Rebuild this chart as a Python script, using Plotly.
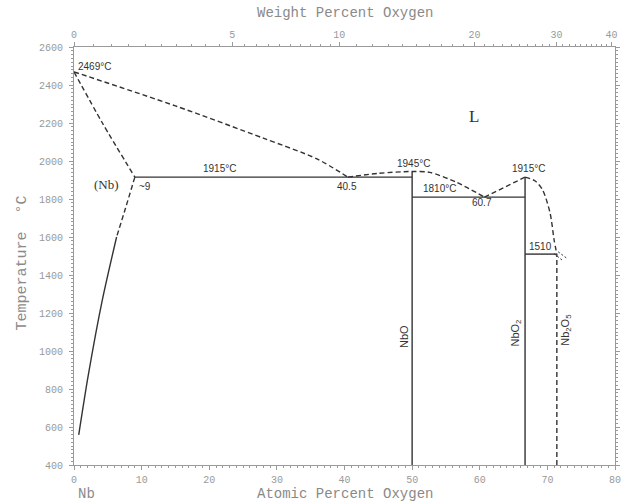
import plotly.graph_objects as go

# ---- data (atomic % O, temperature °C) ----
liq_left_at = [0, 15, 28, 36, 40.5]
liq_left_T = [2469, 2290, 2120, 2010, 1915]

solidus_at = [0, 4.2, 9]
solidus_T = [2469, 2200, 1915]

solvus_dash_at = [9, 7.6, 6.3]
solvus_dash_T = [1915, 1750, 1600]
solvus_solid_at = [6.3, 4.2, 2.1, 0.7]
solvus_solid_T = [1600, 1270, 870, 558]

liq_mid1_at = [40.5, 45, 50, 52.6, 56.5, 60.7]
liq_mid1_T = [1915, 1935, 1945, 1940, 1889, 1810]

liq_mid2a_at = [60.7, 66.7]
liq_mid2a_T = [1810, 1915]
liq_mid2b_at = [66.7, 68.2, 69.3, 70.4, 71.0, 71.4]
liq_mid2b_T = [1915, 1895, 1847, 1726, 1584, 1510]

eut1_at = [9, 50]; eut1_T = [1915, 1915]
eut2_at = [50, 66.7]; eut2_T = [1810, 1810]
eut3_at = [66.7, 71.4]; eut3_T = [1510, 1510]

nbo_at = [50, 50]; nbo_T = [400, 1945]
nbo2_at = [66.7, 66.7]; nbo2_T = [400, 1915]
nb2o5_at = [71.4, 71.4]; nb2o5_T = [400, 1510]

hatch1_at = [71.0, 72.2]; hatch1_T = [1512, 1478]
hatch2_at = [71.6, 72.8]; hatch2_T = [1522, 1490]

# top axis (weight % O)
wt_major = [0, 5, 10, 20, 30, 40]
wt_minor = [i * 0.5 for i in range(0, 21)] + list(range(11, 41))

M_O, M_NB = 15.999, 92.906


def wt_to_at(w):
    no = w / M_O
    nn = (100 - w) / M_NB
    return 100 * no / (no + nn)


line_col = "#333333"
axis_col = "#9a9a9a"
tick_font = dict(family="Liberation Mono", size=10, color="#999999")
DASH = "5px,3px"

fig = go.Figure()


def add(xs, ys, dash="solid", width=1.4, xaxis="x", shape="linear"):
    fig.add_trace(go.Scatter(x=xs, y=ys, mode="lines", xaxis=xaxis,
                             line=dict(color=line_col, width=width, dash=dash,
                                       shape=shape, smoothing=0.8),
                             hoverinfo="skip", showlegend=False))


add(liq_left_at, liq_left_T, DASH, shape="spline")
add(solidus_at, solidus_T, DASH, shape="spline")
add(solvus_dash_at, solvus_dash_T, DASH, shape="spline")
add(solvus_solid_at, solvus_solid_T, shape="spline")
add(liq_mid1_at, liq_mid1_T, DASH, shape="spline")
add(liq_mid2a_at, liq_mid2a_T, DASH)
add(liq_mid2b_at, liq_mid2b_T, DASH, shape="spline")
add(eut1_at, eut1_T)
add(eut2_at, eut2_T)
add(eut3_at, eut3_T)
add(nbo_at, nbo_T)
add(nbo2_at, nbo2_T)
add(nb2o5_at, nb2o5_T, DASH)
add(hatch1_at, hatch1_T, "2px,2px", 1.0)
add(hatch2_at, hatch2_T, "2px,2px", 1.0)
# invisible trace to activate the top axis
fig.add_trace(go.Scatter(x=[0, 80], y=[400, 400], mode="lines", xaxis="x2",
                         line=dict(width=0), opacity=0, hoverinfo="skip",
                         showlegend=False))

lab_font = dict(family="Liberation Sans", size=10, color="#333333")
rot_font = dict(family="Liberation Sans", size=11, color="#333333")
ann = [
    dict(x=0.3, y=2500, text="2469°C", xanchor="left"),
    dict(x=9.3, y=1866, text="~9", xanchor="left"),
    dict(x=21.5, y=1923, text="1915°C", yanchor="bottom"),
    dict(x=40.4, y=1866, text="40.5"),
    dict(x=50.2, y=1950, text="1945°C", yanchor="bottom"),
    dict(x=54.0, y=1815, text="1810°C", yanchor="bottom"),
    dict(x=60.3, y=1780, text="60.7"),
    dict(x=67.2, y=1922, text="1915°C", yanchor="bottom"),
    dict(x=69.0, y=1513, text="1510", yanchor="bottom"),
    dict(x=48.8, y=1074, text="NbO", textangle=-90, font=rot_font),
    dict(x=65.3, y=1095, text="NbO<sub>2</sub>", textangle=-90, font=rot_font),
    dict(x=72.7, y=1110, text="Nb<sub>2</sub>O<sub>5</sub>", textangle=-90, font=rot_font),
    dict(x=4.8, y=1874, text="(Nb)", font=dict(family="Liberation Serif", size=13, color="#333")),
    dict(x=59.2, y=2232, text="L", font=dict(family="Liberation Serif", size=17, color="#333")),
]
for a in ann:
    a.setdefault("font", lab_font)
    a.setdefault("xanchor", "center")
    a.setdefault("yanchor", "middle")
    a.update(showarrow=False, xref="x", yref="y")
    fig.add_annotation(**a)

# page-positioned texts (pixel positions from top-left of the page)
L, R, T, B = 74, 2, 47, 37
W, H = 622, 502
pw, ph = W - L - R, H - T - B

title_font = dict(family="Liberation Mono", size=14, color="#8a8a8a")
page_texts = [
    dict(text="Weight Percent Oxygen", px=347, py=13, font=title_font),
    dict(text="Atomic Percent Oxygen", px=348, py=494, font=title_font),
    dict(text="Nb", px=87, py=494, font=title_font),
    dict(text="Temperature  °C", px=22, py=263, textangle=-90,
         font=dict(family="Liberation Mono", size=15, color="#8a8a8a")),
]
for t in page_texts:
    px, py = t.pop("px"), t.pop("py")
    fig.add_annotation(x=(px - L) / pw, y=(H - py - B) / ph, xref="paper", yref="paper",
                       xanchor="center", yanchor="middle", showarrow=False, **t)

fig.update_layout(
    width=W, height=H,
    margin=dict(l=L, r=R, t=T, b=B),
    paper_bgcolor="white", plot_bgcolor="white",
    xaxis=dict(range=[0, 80], dtick=10, tick0=0, showgrid=False, zeroline=False,
               showline=True, linecolor=axis_col, linewidth=1,
               ticks="outside", ticklen=4, tickcolor=axis_col, tickfont=tick_font,
               ticklabelstandoff=1,
               minor=dict(dtick=1, ticks="outside", ticklen=2, tickcolor=axis_col)),
    xaxis2=dict(range=[0, 80], overlaying="x", side="top", showgrid=False, zeroline=False,
                showline=True, linecolor=axis_col, linewidth=1,
                tickmode="array", tickvals=[wt_to_at(w) for w in wt_major],
                ticktext=[str(w) for w in wt_major],
                ticks="outside", ticklen=4, tickcolor=axis_col, tickfont=tick_font,
                minor=dict(tickmode="array", tickvals=[wt_to_at(w) for w in wt_minor],
                           ticks="outside", ticklen=2, tickcolor=axis_col)),
    yaxis=dict(range=[400, 2600], dtick=200, showgrid=False, zeroline=False,
               showline=True, linecolor=axis_col, linewidth=1, mirror="ticks",
               ticks="outside", ticklen=4, tickcolor=axis_col, tickfont=tick_font,
               ticklabelstandoff=4,
               minor=dict(dtick=20, ticks="outside", ticklen=2, tickcolor=axis_col)),
)

fig.write_html("out.html")
